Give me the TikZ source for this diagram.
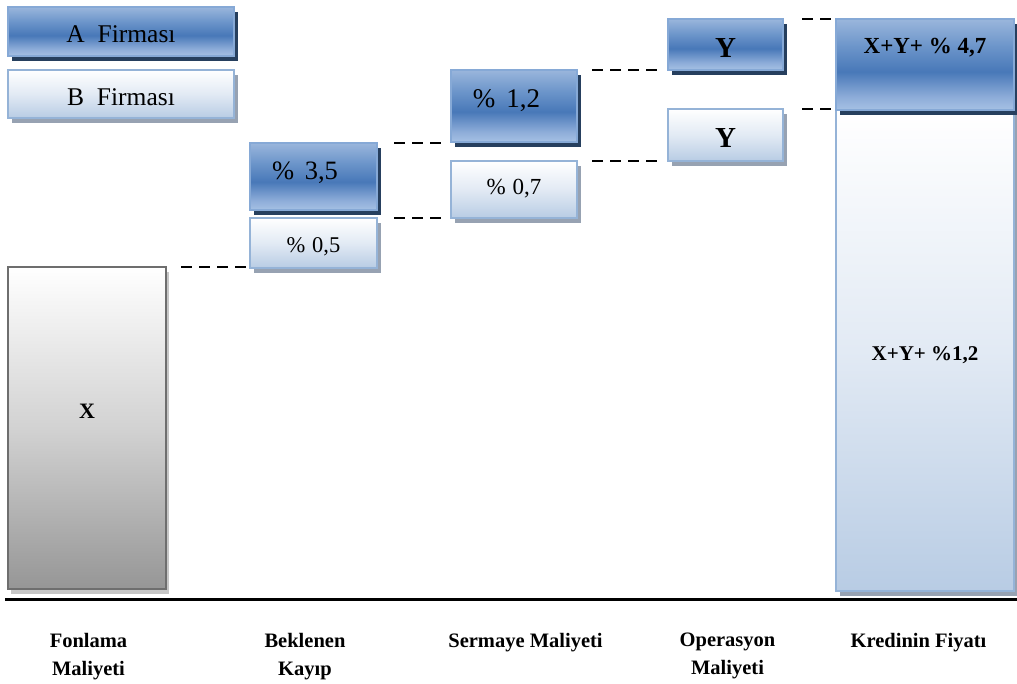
\documentclass[tikz,border=0pt]{standalone}
\usepackage{fontspec}
\setmainfont{Liberation Serif}
\usetikzlibrary{calc,shadows}

% palette
\definecolor{aTop}{HTML}{9AB6DC}
\definecolor{aUpper}{HTML}{6C95CA}
\definecolor{aMid}{HTML}{4878B8}
\definecolor{aLow}{HTML}{8EADD9}
\definecolor{aBot}{HTML}{A6C1E4}
\definecolor{aEdge}{HTML}{86A9D6}
\definecolor{aShadow}{HTML}{263F5E}
\definecolor{bTop}{HTML}{FFFFFF}
\definecolor{bMid}{HTML}{E2EAF4}
\definecolor{bBot}{HTML}{B8CCE4}
\definecolor{bEdge}{HTML}{95B3D7}
\definecolor{bShadow}{HTML}{97A2B2}
\definecolor{gTop}{HTML}{FFFFFF}
\definecolor{gMid}{HTML}{D2D2D2}
\definecolor{gBot}{HTML}{969696}
\definecolor{gEdge}{HTML}{6E6E6E}
\definecolor{gShadow}{HTML}{C6C6C6}

% vertical gradients (stops listed bottom to top; 25bp..75bp spans the box)
\pgfdeclareverticalshading{shadeA}{100bp}{color(0bp)=(aBot); color(25bp)=(aBot); color(32bp)=(aLow); color(46bp)=(aMid); color(60bp)=(aUpper); color(75bp)=(aTop); color(100bp)=(aTop)}
\pgfdeclareverticalshading{shadeB}{100bp}{color(0bp)=(bBot); color(25bp)=(bBot); color(50bp)=(bMid); color(75bp)=(bTop); color(100bp)=(bTop)}
\pgfdeclareverticalshading{shadeG}{100bp}{color(0bp)=(gBot); color(25bp)=(gBot); color(50bp)=(gMid); color(75bp)=(gTop); color(100bp)=(gTop)}

\newcommand\setfs[1]{\fontsize{#1}{#1}\selectfont}

\tikzset{
  bar/.style={rectangle, inner sep=0pt, outer sep=0pt, line width=2pt, anchor=north west},
  firmA/.style={bar, draw=aEdge, shading=shadeA,
    drop shadow={shadow xshift=4pt, shadow yshift=-5pt, fill=aShadow, opacity=1}},
  firmB/.style={bar, draw=bEdge, shading=shadeB,
    drop shadow={shadow xshift=4pt, shadow yshift=-5pt, fill=bShadow, opacity=1}},
  funding/.style={bar, draw=gEdge, shading=shadeG,
    drop shadow={shadow xshift=3pt, shadow yshift=-5pt, fill=gShadow, opacity=1}},
  txt/.style={inner sep=0pt, anchor=base},
  cat/.style={inner sep=0pt, anchor=north, align=center,
    font=\bfseries\fontsize{20.5}{28}\selectfont},
  dline/.style={line width=2.6pt, dash pattern=on 11pt off 7pt},
}

\begin{document}
\begin{tikzpicture}[x=1pt,y=-1pt]
\useasboundingbox (0,0) rectangle (1017,684);

% legend
\node[firmA, minimum width=226pt, minimum height=49pt] (legA) at (8,7) {};
\node[firmB, minimum width=226pt, minimum height=48pt] (legB) at (8,70) {};
\node[txt, font=\setfs{25.5}] (legAt) at ($(legA.center)+(0,11.5)$) {A\hspace{0.5em}Firması};
\node[txt, font=\setfs{25.5}] (legBt) at ($(legB.center)+(0,11.5)$) {B\hspace{0.5em}Firması};

% funding cost
\node[funding, minimum width=158pt, minimum height=322pt] (xbox) at (8,267) {};
\node[txt, font=\bfseries\setfs{22}] (xboxt) at ($(xbox.center)+(0,-10)$) {X};

% expected loss
\node[firmA, minimum width=127pt, minimum height=67pt] (k35) at (250,143) {};
\node[firmB, minimum width=127pt, minimum height=50pt] (k05) at (250,218) {};
\node[txt, font=\setfs{26.5}] (k35t) at ($(k35.center)+(-8.5,3.5)$) {\%\hspace{0.4em}3,5};
\node[txt, font=\setfs{22.5}] (k05t) at ($(k05.center)+(0,10)$) {\%\hspace{0.3em}0,5};

% cost of capital
\node[firmA, minimum width=126pt, minimum height=72pt] (k12) at (451,70) {};
\node[firmB, minimum width=126pt, minimum height=57pt] (k07) at (451,161) {};
\node[txt, font=\setfs{27}] (k12t) at ($(k12.center)+(-7.5,2)$) {\%\hspace{0.4em}1,2};
\node[txt, font=\setfs{23}] (k07t) at ($(k07.center)+(0,5)$) {\%\hspace{0.3em}0,7};

% operating cost
\node[firmA, minimum width=115pt, minimum height=51pt] (yA) at (668,19) {};
\node[firmB, minimum width=115pt, minimum height=52pt] (yB) at (668,109) {};
\node[txt, font=\bfseries\setfs{29}] (yAt) at ($(yA.center)+(0,13.5)$) {Y};
\node[txt, font=\bfseries\setfs{29}] (yBt) at ($(yB.center)+(0,13)$) {Y};

% loan price
\node[firmB, minimum width=178pt, minimum height=481pt] (totB) at (836,110) {};
\node[firmA, minimum width=178pt, minimum height=91pt] (totA) at (836,19) {};
\node[txt, font=\bfseries\setfs{23}] (totAt) at ($(totA.center)+(0,-10.5)$) {X+Y+ \% 4,7};
\node[txt, font=\bfseries\setfs{21}] (totBt) at ($(totB.center)+(0,10.5)$) {X+Y+ \%1,2};

% dashed step connectors
\draw[dline] ($(xbox.north east)+(15,0)$) -- ($(xbox.north east -| k05.west)+(-2,0)$);
\draw[dline] ($(k35.north east)+(17,0)$) -- ($(k35.north east -| k12.west)+(-9,0)$);
\draw[dline] ($(k05.north east)+(17,0)$) -- ($(k05.north east -| k07.west)+(-9,0)$);
\draw[dline] ($(k12.north east)+(15,0)$) -- ($(k12.north east -| yA.west)+(-10,0)$);
\draw[dline] ($(k07.north east)+(15,0)$) -- ($(k07.north east -| yB.west)+(-10,0)$);
\draw[dline] ($(yA.north east)+(19,0)$) -- ($(yA.north east -| totA.west)+(-4,0)$);
\draw[dline] ($(yB.north east)+(19,0)$) -- ($(yB.north east -| totA.west)+(-4,0)$);

% axis
\coordinate (axL) at (5,599);
\coordinate (axR) at (1017,599);
\draw[line width=3pt] (axL) -- (axR);

% category labels
\node[cat] (lab1) at (88.5,633) {Fonlama\\Maliyeti};
\node[cat] (lab2) at (305,633) {Beklenen\\Kayıp};
\node[cat] (lab3) at (525.5,633) {Sermaye Maliyeti};
\node[cat] (lab4) at (727.5,633) {Operasyon\\Maliyeti};
\node[cat] (lab5) at (918.5,633) {Kredinin Fiyatı};
\end{tikzpicture}
\end{document}
